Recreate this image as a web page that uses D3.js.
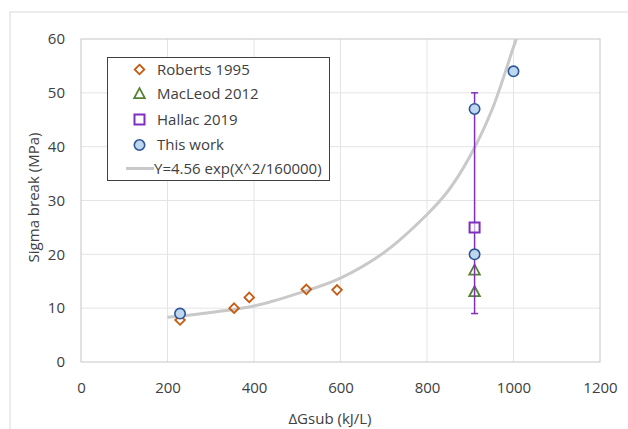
<!DOCTYPE html>
<html>
<head>
<meta charset="utf-8">
<script src="https://cdn.jsdelivr.net/npm/d3@7"></script>
<style>
  body { margin: 0; background: #fff; }
  text { font-family: "Open Sans", "Liberation Sans", Arial, sans-serif; fill: #404040; }
</style>
</head>
<body>
<div id="chart"></div>
<script>
// series
var robertsX = [229, 354, 389, 521, 592];
var robertsY = [7.8, 10, 12, 13.5, 13.4];
var macleodX = [910, 910];
var macleodY = [17, 13];
var hallacX = [910];
var hallacY = [25];
var hallacErrLow = [9];
var hallacErrHigh = [50];
var thisWorkX = [229, 910, 910, 1000];
var thisWorkY = [9, 47, 20, 54];
var fitX = [200, 300, 400, 500, 600, 700, 800, 850, 900, 950, 1000, 1010];
var fitY = [8.3, 9.2, 10.4, 12.7, 15.6, 20.3, 27.4, 31.9, 38.3, 46.8, 58.5, 60.8];
var xTicks = [0, 200, 400, 600, 800, 1000, 1200];
var yTicks = [0, 10, 20, 30, 40, 50, 60];
var legendLabels = ["Roberts 1995", "MacLeod 2012", "Hallac 2019", "This work", "Y=4.56 exp(X^2/160000)"];

var width = 628, height = 429;
var m = { left: 81, right: 600, top: 39, bottom: 362 };
var fontFam = '"Open Sans", "Liberation Sans", Arial, sans-serif';

var svg = d3.select("#chart").append("svg")
    .attr("width", width)
    .attr("height", height);

// outer chart border
svg.append("rect")
    .attr("x", 10).attr("y", 12)
    .attr("width", 640).attr("height", 440)
    .attr("fill", "none").attr("stroke", "#d9d9d9");

var x = d3.scaleLinear().domain([0, 1200]).range([m.left, m.right]);
var y = d3.scaleLinear().domain([0, 60]).range([m.bottom, m.top]);

// gridlines
svg.append("g").selectAll("line").data(xTicks.slice(1, -1)).enter().append("line")
    .attr("x1", d => x(d)).attr("x2", d => x(d))
    .attr("y1", m.top).attr("y2", m.bottom)
    .attr("stroke", "#e4e4e4");
svg.append("g").selectAll("line").data(yTicks.slice(1, -1)).enter().append("line")
    .attr("x1", m.left).attr("x2", m.right)
    .attr("y1", d => y(d)).attr("y2", d => y(d))
    .attr("stroke", "#e4e4e4");

// plot border
svg.append("rect")
    .attr("x", m.left).attr("y", m.top)
    .attr("width", m.right - m.left).attr("height", m.bottom - m.top)
    .attr("fill", "none").attr("stroke", "#c6c6c6");

// axes (labels only)
var xAxis = svg.append("g")
    .attr("transform", "translate(0," + m.bottom + ")")
    .call(d3.axisBottom(x).tickValues(xTicks).tickFormat(d3.format("d")).tickSize(0).tickPadding(20));
var yAxis = svg.append("g")
    .attr("transform", "translate(" + m.left + ",0)")
    .call(d3.axisLeft(y).tickValues(yTicks).tickFormat(d3.format("d")).tickSize(0).tickPadding(16));
[xAxis, yAxis].forEach(function(a) {
    a.select(".domain").remove();
    a.selectAll("text")
        .style("font-family", fontFam)
        .style("font-size", "15px")
        .attr("fill", "#404040");
});

svg.append("text")
    .attr("x", 330).attr("y", 424)
    .attr("text-anchor", "middle")
    .style("font-size", "15px")
    .text("\u0394Gsub (kJ/L)");
svg.append("text")
    .attr("transform", "translate(39," + ((m.top + m.bottom) / 2 - 3) + ") rotate(-90)")
    .attr("text-anchor", "middle")
    .style("font-size", "15px")
    .text("Sigma break (MPa)");

// clip to plot area
svg.append("clipPath").attr("id", "plotclip")
    .append("rect")
    .attr("x", m.left).attr("y", m.top)
    .attr("width", m.right - m.left).attr("height", m.bottom - m.top);

// fit curve
var fitData = fitX.map((d, i) => [d, fitY[i]]);
svg.append("path")
    .datum(fitData)
    .attr("clip-path", "url(#plotclip)")
    .attr("fill", "none")
    .attr("stroke", "#c9c9c9")
    .attr("stroke-width", 3)
    .attr("d", d3.line().x(d => x(d[0])).y(d => y(d[1])).curve(d3.curveCatmullRom.alpha(0.5)));

// marker shapes
var diamond = "M0,-4.8L4.8,0L0,4.8L-4.8,0Z";
var triangle = "M0,-5.8L5.3,4.2L-5.3,4.2Z";
var square = "M-5,-5H5V5H-5Z";

var orange = "#c55a11", green = "#548235", purple = "#7f2fbf", blue = "#2f5597", lightBlue = "#bdd7ee";

// Roberts
svg.append("g").selectAll("path").data(robertsX).enter().append("path")
    .attr("transform", (d, i) => "translate(" + x(d) + "," + y(robertsY[i]) + ")")
    .attr("d", diamond)
    .attr("fill", "none").attr("stroke", orange).attr("stroke-width", 1.8);

// MacLeod
svg.append("g").selectAll("path").data(macleodX).enter().append("path")
    .attr("transform", (d, i) => "translate(" + x(d) + "," + y(macleodY[i]) + ")")
    .attr("d", triangle)
    .attr("fill", "none").attr("stroke", green).attr("stroke-width", 1.8);

// Hallac error bar and marker
var eb = svg.append("g");
hallacX.forEach(function(d, i) {
    eb.append("line")
        .attr("x1", x(d)).attr("x2", x(d))
        .attr("y1", y(hallacErrLow[i])).attr("y2", y(hallacErrHigh[i]))
        .attr("stroke", purple).attr("stroke-width", 1.5);
    [hallacErrLow[i], hallacErrHigh[i]].forEach(function(v) {
        eb.append("line")
            .attr("x1", x(d) - 3.5).attr("x2", x(d) + 3.5)
            .attr("y1", y(v)).attr("y2", y(v))
            .attr("stroke", purple).attr("stroke-width", 1.5);
    });
    eb.append("path")
        .attr("transform", "translate(" + x(d) + "," + y(hallacY[i]) + ")")
        .attr("d", square)
        .attr("fill", "#fff").attr("fill-opacity", 0.6)
        .attr("stroke", purple).attr("stroke-width", 2);
});

// This work
svg.append("g").selectAll("circle").data(thisWorkX).enter().append("circle")
    .attr("cx", d => x(d))
    .attr("cy", (d, i) => y(thisWorkY[i]))
    .attr("r", 5.2)
    .attr("fill", lightBlue).attr("stroke", blue).attr("stroke-width", 1.6);

// legend
var lg = svg.append("g");
lg.append("rect")
    .attr("x", 107.5).attr("y", 57.5)
    .attr("width", 222).attr("height", 123)
    .attr("fill", "#fff").attr("stroke", "#404040");
var rowY = [69.5, 94, 119.5, 145, 168.5];
var mx = 139.5;
lg.append("path").attr("transform", "translate(" + mx + "," + rowY[0] + ")").attr("d", diamond)
    .attr("fill", "none").attr("stroke", orange).attr("stroke-width", 1.8);
lg.append("path").attr("transform", "translate(" + mx + "," + rowY[1] + ")").attr("d", triangle)
    .attr("fill", "none").attr("stroke", green).attr("stroke-width", 1.8);
lg.append("path").attr("transform", "translate(" + mx + "," + rowY[2] + ")").attr("d", square)
    .attr("fill", "none").attr("stroke", purple).attr("stroke-width", 2);
lg.append("circle").attr("cx", mx).attr("cy", rowY[3]).attr("r", 5.2)
    .attr("fill", lightBlue).attr("stroke", blue).attr("stroke-width", 1.6);
lg.append("line").attr("x1", 126).attr("x2", 154).attr("y1", rowY[4]).attr("y2", rowY[4])
    .attr("stroke", "#c9c9c9").attr("stroke-width", 3);
lg.selectAll("text.lab").data(legendLabels).enter().append("text")
    .attr("class", "lab")
    .attr("x", (d, i) => i === 4 ? 154 : 157)
    .attr("y", (d, i) => rowY[i])
    .attr("dy", "0.35em")
    .style("font-size", "15px")
    .attr("fill", "#262626")
    .text(d => d);
</script>
</body>
</html>
